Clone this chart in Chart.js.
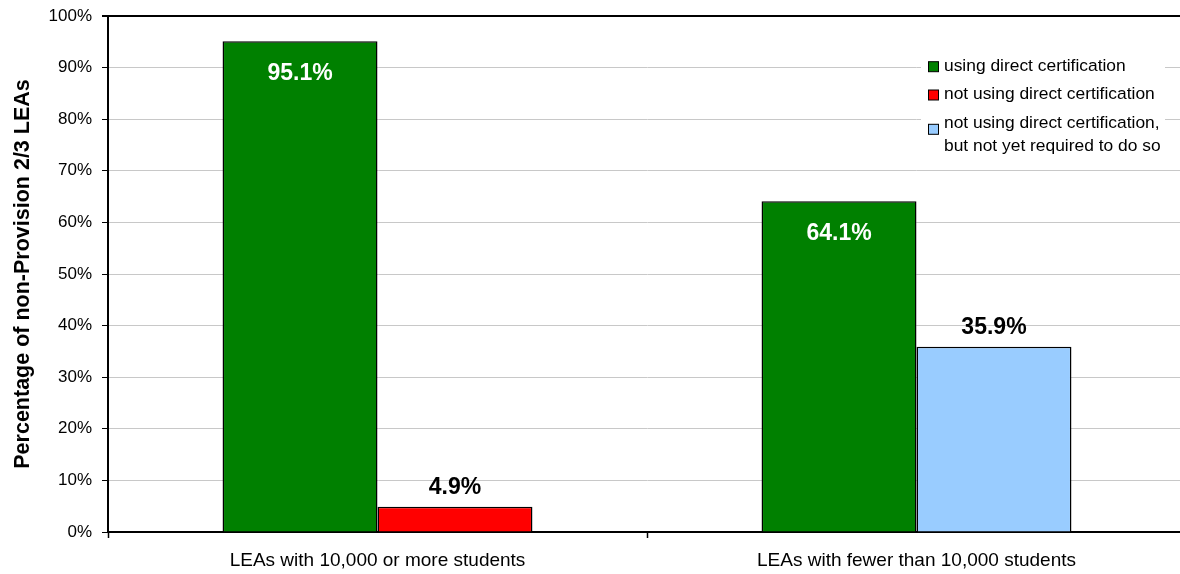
<!DOCTYPE html>
<html>
<head>
<meta charset="utf-8">
<script src="https://cdn.jsdelivr.net/npm/chart.js@4.4.1/dist/chart.umd.min.js"></script>
<style>
    body { margin: 0; overflow: hidden; background: #fff; }
    #wrap { position: relative; width: 1186px; height: 574px; }
</style>
</head>
<body>
<div id="wrap"><canvas id="direct_cert"></canvas></div>
<script>
const groups = ["LEAs with 10,000 or more students", "LEAs with fewer than 10,000 students"];
const using_direct = [95.1, 64.1];
const not_using = [4.9, null];
const not_yet_required = [null, 35.9];
const series_names = [
    "using direct certification",
    "not using direct certification",
    "not using direct certification,\nbut not yet required to do so"
];
const y_ticks = [0, 10, 20, 30, 40, 50, 60, 70, 80, 90, 100];

Chart.defaults.font.family = '"Liberation Sans", Arial, sans-serif';
Chart.defaults.color = '#000';

// percentages over the bars: white inside the green ones, black above the others
const valueLabels = {
    id: 'valueLabels',
    afterDatasetsDraw(chart) {
        const ctx = chart.ctx;
        ctx.save();
        ctx.font = 'bold 23px "Liberation Sans", Arial, sans-serif';
        ctx.textAlign = 'center';
        ctx.textBaseline = 'middle';
        chart.data.datasets.forEach((ds, i) => {
            chart.getDatasetMeta(i).data.forEach((bar, j) => {
                const v = ds.data[j];
                if (v == null) return;
                const inside = i === 0;
                ctx.fillStyle = inside ? '#fff' : '#000';
                ctx.fillText(v.toFixed(1) + '%', bar.x, inside ? bar.y + 32 : bar.y - 19);
            });
        });
        ctx.restore();
    }
};

// legend box sitting inside the plot, top right
const boxLegend = {
    id: 'boxLegend',
    afterDraw(chart) {
        const ctx = chart.ctx;
        const boxY = [66.7, 95, 129.3];
        const textY = [66.5, 94.5, 123];
        ctx.save();
        ctx.fillStyle = '#fff';
        ctx.fillRect(921, 50, 244, 110);
        ctx.font = '17.4px "Liberation Sans", Arial, sans-serif';
        ctx.textBaseline = 'middle';
        chart.data.datasets.forEach((ds, i) => {
            ctx.fillStyle = ds.backgroundColor;
            ctx.fillRect(928.5, boxY[i] - 5, 10, 10);
            ctx.strokeStyle = '#000';
            ctx.lineWidth = 1;
            ctx.strokeRect(928.5, boxY[i] - 5, 10, 10);
            ctx.fillStyle = '#000';
            ds.label.split('\n').forEach((line, k) => {
                ctx.fillText(line, 944, textY[i] + k * 23.7);
            });
        });
        ctx.restore();
    }
};

function bar_set(label, values, colour) {
    return {
        label: label,
        data: values,
        backgroundColor: colour,
        borderColor: '#000',
        borderWidth: 1.5,
        skipNull: true,
        categoryPercentage: 0.575,
        barPercentage: 1.0,
    };
}

new Chart(document.getElementById('direct_cert').getContext('2d'), {
    type: 'bar',
    data: {
        labels: groups,
        datasets: [
            bar_set(series_names[0], using_direct, '#008000'),
            bar_set(series_names[1], not_using, '#ff0000'),
            bar_set(series_names[2], not_yet_required, '#99ccff'),
        ]
    },
    options: {
        animation: false,
        events: [],
        responsive: true,
        maintainAspectRatio: false,
        layout: { padding: { top: 16, right: 0, bottom: 0, left: 0 } },
        scales: {
            y: {
                min: 0,
                max: 100,
                afterBuildTicks(scale) {
                    scale.ticks = y_ticks.map(v => ({ value: v }));
                },
                afterFit(scale) {
                    scale.width = 108;
                    scale.paddingTop = 0;
                    scale.paddingBottom = 0;
                },
                ticks: {
                    callback: v => v + '%',
                    font: { size: 17 },
                    padding: 10,
                },
                grid: {
                    color: c => (c.tick && c.tick.value === 100) ? '#000' : '#c8c8c8',
                    lineWidth: c => (c.tick && c.tick.value === 100) ? 2 : 1,
                    tickColor: '#000',
                    tickLength: 6,
                },
                border: { color: '#000', width: 2 },
                title: {
                    display: true,
                    text: 'Percentage of non-Provision 2/3 LEAs',
                    font: { size: 21.5, weight: 'bold' },
                    padding: { top: 10, bottom: 0 },
                }
            },
            x: {
                afterFit(scale) { scale.height = 42; },
                ticks: {
                    font: { size: 19 },
                    padding: 11,
                    maxRotation: 0,
                },
                grid: {
                    offset: true,
                    drawOnChartArea: false,
                    tickColor: '#000',
                    tickLength: 6,
                    tickWidth: 1.5,
                },
                border: { color: '#000', width: 2 },
            }
        },
        plugins: {
            legend: { display: false },
            tooltip: { enabled: false }
        }
    },
    plugins: [valueLabels, boxLegend]
});
</script>
</body>
</html>
